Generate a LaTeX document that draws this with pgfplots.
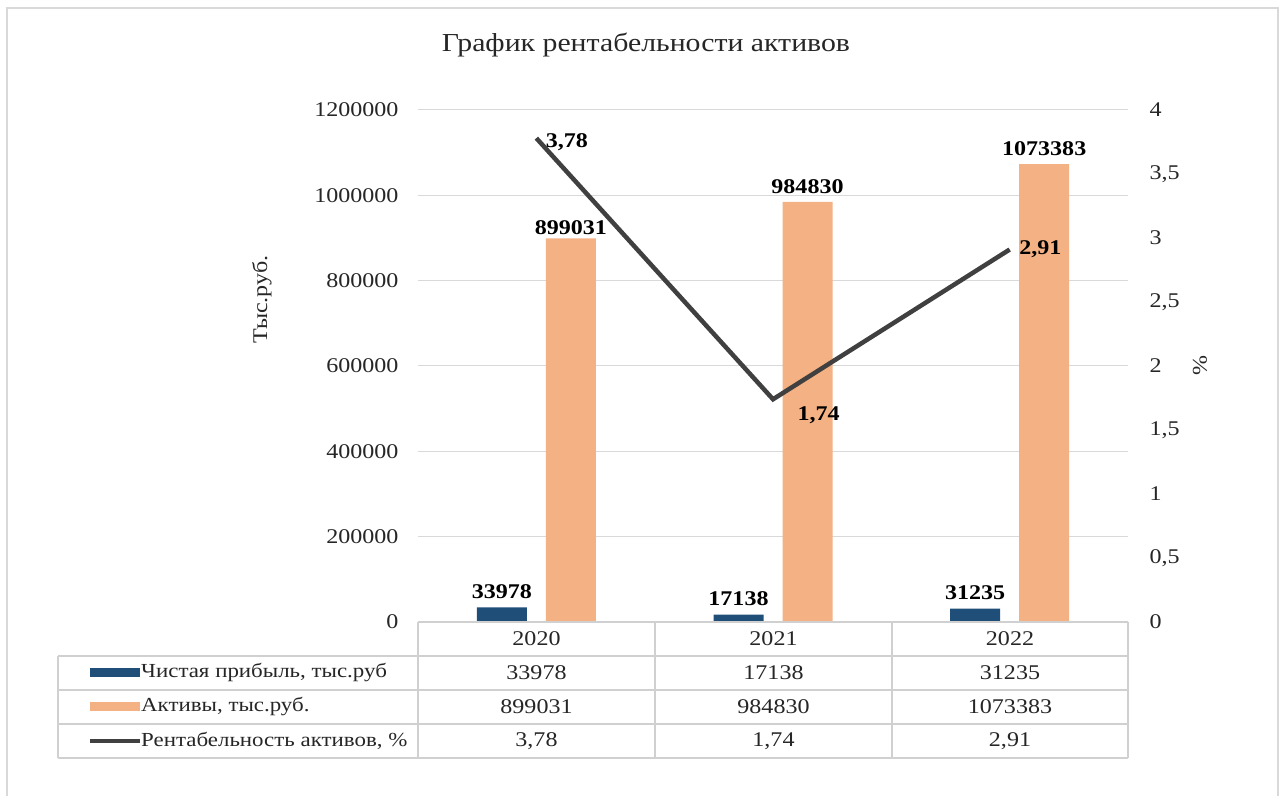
\documentclass[border=0pt]{standalone}
\usepackage{fontspec}
\setmainfont[FakeStretch=1.15]{Liberation Serif}
\usepackage{pgfplots}
\pgfplotsset{compat=1.18}

\definecolor{profit}{HTML}{1F4E79}
\definecolor{assets}{HTML}{F4B183}
\definecolor{roa}{HTML}{404040}
\definecolor{gridc}{HTML}{D9D9D9}
\definecolor{tabc}{HTML}{D0D0D0}
\definecolor{txt}{HTML}{262626}

\newcommand{\fs}{\fontsize{21}{24}\selectfont}
\newcommand{\ft}{\fontsize{20}{23}\selectfont}

\begin{document}
\begin{tikzpicture}[x=1bp,y=1bp]
\path[use as bounding box] (0,0) rectangle (1281,796);
\draw[gridc, line width=1.5bp] (7,-10) -- (7,788) -- (1278,788) -- (1278,-10);

\node[txt] at (646,751) {\fontsize{26}{30}\selectfont График рентабельности активов};

% bars, left axis
\begin{axis}[
  at={(418bp,174bp)}, anchor=south west,
  width=710bp, height=512bp, scale only axis,
  xmin=-0.5, xmax=2.5, xtick=\empty,
  ymin=0, ymax=1200000,
  ytick={0,200000,...,1200000},
  scaled y ticks=false,
  /pgf/number format/fixed,
  /pgf/number format/precision=0,
  /pgf/number format/1000 sep={},
  /pgf/number format/assume math mode=true,
  yticklabel style={font=\fs, text=txt, xshift=-16bp},
  ymajorgrids, grid style={gridc, line width=1bp},
  axis line style={draw=none}, tick style={draw=none},
  ylabel={Тыс.руб.},
  ylabel style={font=\fs, text=txt, at={(axis description cs:-0.2197,0.63)}, anchor=center},
  ybar=19bp, bar width=50bp,
  nodes near coords,
  every node near coord/.append style={font=\fs\bfseries, text=black, yshift=5bp},
]
\addplot[fill=profit, draw=none] coordinates {(0,33978) (1,17138) (2,31235)};
\addplot[fill=assets, draw=none,
  coordinate style/.condition={\coordindex==0}{yshift=-5bp}]
  coordinates {(0,899031) (1,984830) (2,1073383)};
\end{axis}

% line, right axis
\begin{axis}[
  at={(418bp,174bp)}, anchor=south west,
  width=710bp, height=512bp, scale only axis,
  xmin=-0.5, xmax=2.5, xtick=\empty,
  ymin=0, ymax=4,
  ytick={0,0.5,...,4},
  axis y line*=right,
  /pgf/number format/use comma,
  /pgf/number format/assume math mode=true,
  yticklabel style={font=\fs, text=txt, xshift=18bp},
  axis line style={draw=none}, tick style={draw=none},
  ylabel={\%},
  ylabel style={font=\fs, text=txt, at={(axis description cs:1.1014,0.5)}, anchor=center, rotate=180},
]
\addplot[roa, line width=4.5bp, mark=none,
  nodes near coords, point meta=explicit symbolic,
  every node near coord/.append style={font=\fs\bfseries, text=black, anchor=west, xshift=4bp, yshift=-4bp},
  coordinate style/.condition={\coordindex==1}{xshift=15bp, yshift=-12bp},
  coordinate style/.condition={\coordindex==2}{yshift=4bp}]
  coordinates {(0,3.78)[3,78] (1,1.74)[1,74] (2,2.91)[2,91]};
\end{axis}

% data table
\begin{scope}[tabc, line width=1.2bp]
  \draw (418,174) -- (1128,174);
  \draw (58,140) -- (1128,140);
  \draw (58,106) -- (1128,106);
  \draw (58,72) -- (1128,72);
  \draw (58,38) -- (1128,38);
  \draw (58,140) -- (58,38);
  \foreach \xx in {418,655,892,1128} \draw (\xx,174) -- (\xx,38);
\end{scope}
\foreach \xx/\t in {536.5/2020,773.5/2021,1010/2022}
  \node[txt] at (\xx,157) {\fs\t};
\foreach \xx/\a/\b/\c in {536.5/33978/899031/{3,78},773.5/17138/984830/{1,74},1010/31235/1073383/{2,91}} {
  \node[txt] at (\xx,123) {\fs\a};
  \node[txt] at (\xx,89) {\fs\b};
  \node[txt] at (\xx,55) {\fs\c};
}
\draw[profit, line width=9bp] (90,123) -- (140,123);
\draw[assets, line width=9bp] (90,89) -- (140,89);
\draw[roa, line width=4.5bp] (90,55) -- (140,55);
\node[txt, anchor=west, inner sep=1bp] at (140,123) {\ft Чистая прибыль, тыс.руб};
\node[txt, anchor=west, inner sep=1bp] at (140,89) {\ft Активы, тыс.руб.};
\node[txt, anchor=west, inner sep=1bp] at (140,55) {\ft Рентабельность активов, \%};
\end{tikzpicture}
\end{document}
